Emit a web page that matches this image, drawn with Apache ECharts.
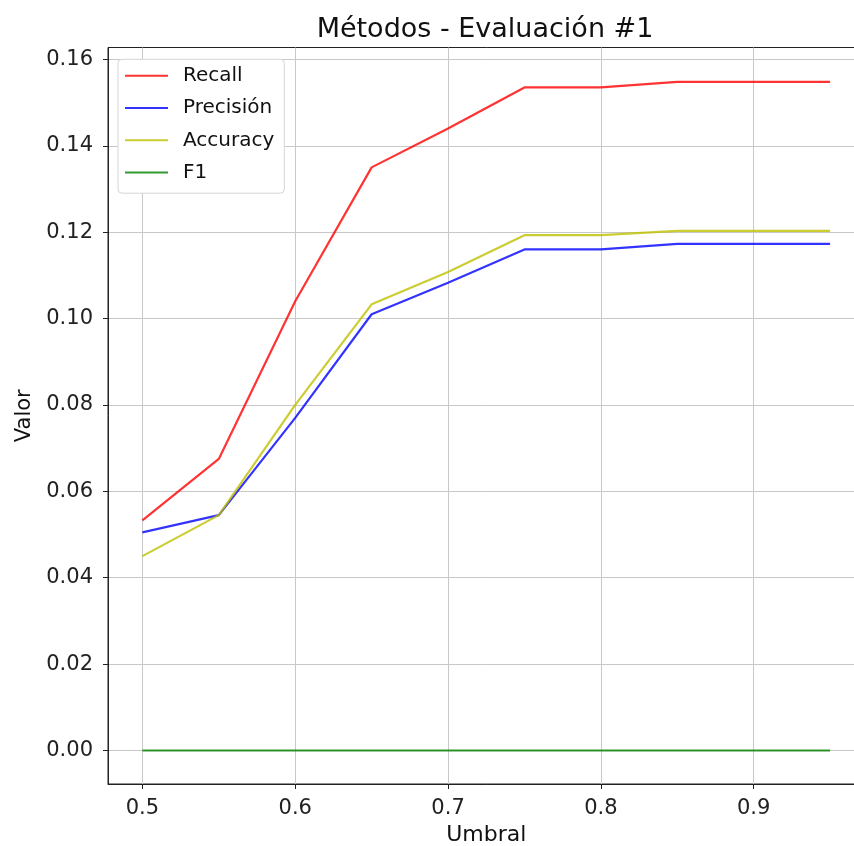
<!DOCTYPE html>
<html>
<head>
<meta charset="utf-8">
<script src="https://cdn.jsdelivr.net/npm/echarts@6/dist/echarts.min.js"></script>
<style>html,body{margin:0;padding:0;background:#fff;overflow:hidden}#c{width:865px;height:846px}</style>
</head>
<body>
<div id="c"></div>
<script>
const umbral = [0.5, 0.55, 0.6, 0.65, 0.7, 0.75, 0.8, 0.85, 0.9, 0.95];
const recall = [0.0533, 0.0675, 0.1040, 0.1350, 0.1440, 0.1535, 0.1535, 0.1548, 0.1548, 0.1548];
const precision = [0.0505, 0.0545, 0.0770, 0.1010, 0.1083, 0.1160, 0.1160, 0.1173, 0.1173, 0.1173];
const accuracy = [0.0450, 0.0545, 0.0800, 0.1033, 0.1108, 0.1193, 0.1193, 0.1203, 0.1203, 0.1203];
const f1 = [0, 0, 0, 0, 0, 0, 0, 0, 0, 0];
const xTicks = [0.5, 0.6, 0.7, 0.8, 0.9];
const yTicks = [0, 0.02, 0.04, 0.06, 0.08, 0.10, 0.12, 0.14, 0.16];

const font = 'DejaVu Sans';
const pair = (ys) => umbral.map((x, i) => [x, ys[i]]);
const mk = (name, data, color) => ({
  name, type: 'line', data: pair(data), showSymbol: false, symbol: 'none',
  lineStyle: { color, width: 2.2 }, itemStyle: { color }, animation: false
});

const chart = echarts.init(document.getElementById('c'));
chart.setOption({
  animation: false,
  backgroundColor: '#fff',
  title: {
    text: 'Métodos - Evaluación #1', left: 480, top: 11, textAlign: 'center',
    textStyle: { fontFamily: font, fontSize: 27, fontWeight: 'normal', color: '#111' }
  },
  grid: { left: 108, top: 47.5, right: 0.5, bottom: 62, show: true, borderColor: '#222', borderWidth: 1,
    backgroundColor: 'transparent', outerBoundsMode: 'none', containLabel: false },
  legend: {
    orient: 'vertical', left: 118, top: 59.3,
    padding: [6.4, 10, 10.6, 7],
    backgroundColor: '#fff', borderColor: '#d6d6d6', borderWidth: 1, borderRadius: 4,
    icon: 'path://M0,0 L43,0 L43,2 L0,2 Z', itemWidth: 43, itemHeight: 2.5, itemGap: 12.3,
    textStyle: { fontFamily: font, fontSize: 20, color: '#111', lineHeight: 20, padding: [0, 0, 0, 10] },
    data: ['Recall', 'Precisión', 'Accuracy', 'F1']
  },
  xAxis: {
    type: 'value', min: 0.4775, max: 0.9725,
    name: 'Umbral', nameLocation: 'middle', nameGap: 40,
    nameTextStyle: { fontFamily: font, fontSize: 22, color: '#111' },
    axisLine: { show: true, onZero: false, lineStyle: { color: '#222', width: 1 } },
    axisTick: { show: true, length: 5, inside: false, customValues: xTicks, lineStyle: { color: '#222' } },
    axisLabel: { customValues: xTicks, fontFamily: font, fontSize: 21, color: '#222', margin: 14,
      formatter: v => String(Math.round(v * 10) / 10) },
    splitLine: { show: true, lineStyle: { color: '#c8c8c8', width: 1 } }
  },
  yAxis: {
    type: 'value', min: -0.00775, max: 0.16275,
    name: 'Valor', nameLocation: 'middle', nameGap: 73, nameRotate: 90,
    nameTextStyle: { fontFamily: font, fontSize: 21, color: '#111' },
    axisLine: { show: true, onZero: false, lineStyle: { color: '#222', width: 1 } },
    axisTick: { show: true, length: 5, inside: false, customValues: yTicks, lineStyle: { color: '#222' } },
    axisLabel: { customValues: yTicks, fontFamily: font, fontSize: 21, color: '#222', margin: 15,
      formatter: v => v.toFixed(2) },
    splitLine: { show: true, lineStyle: { color: '#c8c8c8', width: 1 } }
  },
  series: [
    mk('Recall', recall, 'rgba(255,0,0,0.8)'),
    mk('Precisión', precision, 'rgba(0,0,255,0.8)'),
    mk('Accuracy', accuracy, 'rgba(191,191,0,0.8)'),
    mk('F1', f1, 'rgba(0,128,0,0.8)')
  ]
});
</script>
</body>
</html>
